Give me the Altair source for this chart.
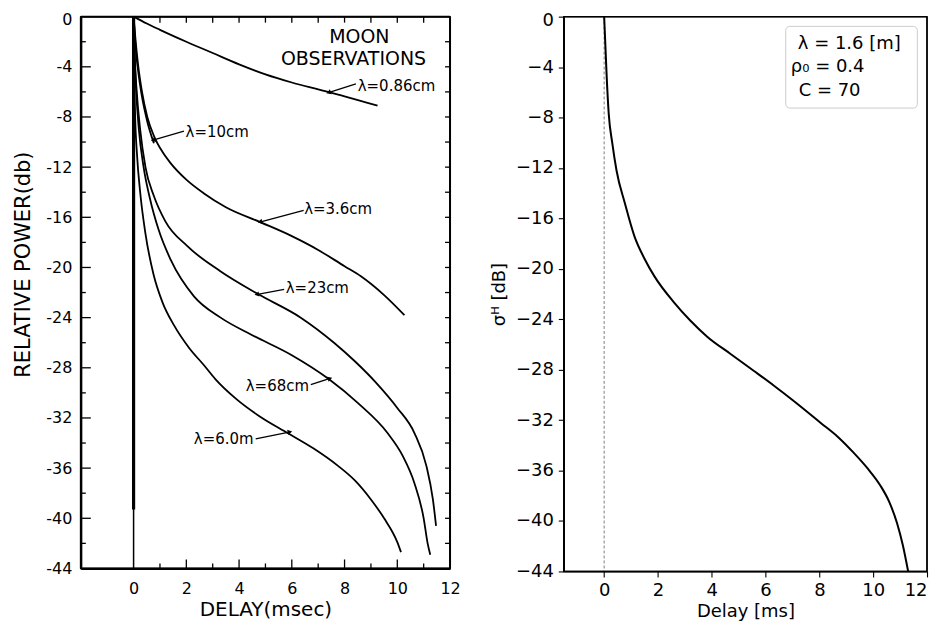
import math
import altair as alt
import pandas as pd

# ---------------- left panel data (scanned figure) ----------------
c086_x = [0, 0.5, 1, 2, 3, 4, 5, 6, 7, 8, 9.25]
c086_y = [0, -0.55, -1.05, -2.0, -2.9, -3.8, -4.6, -5.25, -5.8, -6.35, -7.1]

c10_x = [0, 0.08, 0.25, 0.5, 0.77]
c10_y = [0, -2.5, -5.5, -8.2, -10.1]

c36_x = [0, 0.08, 0.18, 0.32, 0.52, 0.77, 1.1, 1.41, 2.0, 2.67, 3.5, 4.82, 6.0, 7.0, 8.0, 8.62, 9.5, 10.27]
c36_y = [0, -2.0, -4.0, -6.0, -8.0, -9.5, -10.8, -11.7, -13.0, -14.1, -15.2, -16.4, -17.5, -18.6, -19.9, -20.7, -22.2, -23.8]

c23_x = [0, 0.04, 0.12, 0.25, 0.45, 0.77, 1.2, 2.04, 3.29, 4.7, 6.34, 7.6, 8.4, 9.2, 10.0, 10.65, 11.1, 11.35, 11.47]
c23_y = [0, -3, -6, -9, -12, -14.3, -16.3, -18.3, -20.3, -22.1, -24.0, -26.0, -27.5, -29.2, -31.2, -33.2, -35.8, -38.5, -40.6]

c68_x = [0, 0.04, 0.1, 0.2, 0.38, 0.62, 0.95, 1.41, 2.29, 3.3, 4.5, 6.0, 7.4, 8.5, 9.63, 10.2, 10.65, 11.0, 11.15, 11.25]
c68_y = [0, -3, -6, -9, -12, -14.5, -17.0, -19.4, -22.3, -24.0, -25.4, -27.0, -28.9, -30.8, -33.2, -35.0, -37.2, -40.0, -42.0, -42.9]

c600_x = [0, 0.02, 0.06, 0.13, 0.25, 0.45, 0.75, 1.1, 1.53, 2.1, 2.67, 3.1, 3.9, 4.8, 5.84, 6.8, 7.74, 8.4, 9.0, 9.5, 10.0, 10.14]
c600_y = [0, -4, -8, -11, -14, -17.3, -20.5, -22.8, -24.6, -26.4, -27.8, -28.9, -30.5, -31.9, -33.2, -34.4, -35.8, -37.0, -38.5, -40.0, -41.9, -42.7]

spike_thick_y = [0, -39.3]
spike_thin_y = [0, -44]

# annotations: label, text x, text y, align, arrow tail (x,y), arrow head (x,y)
ann_text = ["λ=0.86cm", "λ=10cm", "λ=3.6cm", "λ=23cm", "λ=68cm", "λ=6.0m"]
ann_tx = [8.5, 1.97, 6.47, 5.77, 6.65, 4.55]
ann_ty = [-5.52, -9.2, -15.3, -21.6, -29.43, -33.67]
ann_align = ["left", "left", "left", "left", "right", "right"]
arr_x0 = [8.43, 1.91, 6.45, 5.71, 6.72, 4.63]
arr_y0 = [-5.37, -9.13, -15.44, -21.74, -29.35, -33.67]
arr_x1 = [7.42, 0.77, 4.82, 4.7, 7.42, 5.9]
arr_y1 = [-6.03, -9.82, -16.36, -22.14, -28.87, -33.13]

title_lines = ["MOON", "OBSERVATIONS"]
title_x = [8.56, 8.34]
title_y = [-1.63, -3.38]

x_major = [2, 4, 6, 8, 10]
x_minor = [1, 3, 5, 7, 9, 11]
y_major = [-4, -8, -12, -16, -20, -24, -28, -32, -36, -40]
y_minor = [-2, -6, -10, -14, -18, -22, -26, -30, -34, -38, -42]

# ---------------- right panel data (model) ----------------
model_x = [0, 0.02, 0.05, 0.085, 0.17, 0.3, 0.46, 0.77, 1.13, 1.5, 1.87, 2.61, 3.2, 3.84, 4.7,
           5.57, 6.3, 7.0, 8.04, 8.7, 9.28, 9.8, 10.27, 10.6, 10.89, 11.1, 11.3]
model_y = [0, -1, -2.5, -4.3, -7.7, -10.0, -12.2, -14.8, -17.45, -19.2, -20.6, -22.7, -24.1, -25.4, -26.75,
           -28.1, -29.25, -30.4, -32.2, -33.35, -34.6, -35.85, -37.2, -38.5, -40.2, -41.9, -44.0]

legend_lines = ["λ = 1.6 [m]", "ρ₀ = 0.4", "C = 70"]
legend_tx = [7.2, 6.94, 7.23]
legend_ty = [-2.19, -4.01, -5.9]
legend_box = [6.75, 11.64, -0.77, -7.25]

# ---------------- build left panel ----------------
LW, LH = 370, 553
FONT = "DejaVu Sans"
lx = alt.Scale(domain=[-2, 12], nice=False, zero=False)
ly = alt.Scale(domain=[-44, 0], nice=False, zero=False)

rows = []
for name, xs, ys in [("0.86cm", c086_x, c086_y), ("10cm", c10_x, c10_y), ("3.6cm", c36_x, c36_y),
                     ("23cm", c23_x, c23_y), ("68cm", c68_x, c68_y), ("6.0m", c600_x, c600_y)]:
    for i, (a, b) in enumerate(zip(xs, ys)):
        rows.append({"series": name, "x": a, "y": b, "i": i})
curves = pd.DataFrame(rows)

xenc = alt.X("x:Q", scale=lx, axis=alt.Axis(values=list(range(0, 13, 2)), title="DELAY(msec)",
                                             tickSize=0, domain=True, domainColor="black", domainWidth=2,
                                             grid=False, labelFont=FONT,
                                             labelFontSize=16, labelColor="black", labelPadding=12,
                                             labelFlush=False,
                                             titleFont=FONT, titleFontSize=20, titleFontWeight="normal",
                                             titleColor="black", titlePadding=3))
yenc = alt.Y("y:Q", scale=ly, axis=alt.Axis(values=list(range(-44, 1, 4)), title="RELATIVE POWER(db)",
                                             labelExpr="datum.value == 0 ? '0' : '-' + abs(datum.value)",
                                             labelOffset=alt.condition("datum.value == 0", alt.value(3), alt.value(0)),
                                             tickSize=0, domain=True, domainColor="black", domainWidth=2,
                                             grid=False, labelFont=FONT,
                                             labelFontSize=16, labelColor="black", labelPadding=9,
                                             titleFont=FONT, titleFontSize=21, titleFontWeight="normal",
                                             titleColor="black", titleAngle=-90, titleX=-57, titleY=248,
                                             titleBaseline="middle", titleAlign="center"))

left_curves = alt.Chart(curves).mark_line(color="black", strokeWidth=1.8, interpolate="monotone").encode(
    x=xenc, y=yenc, detail="series:N", order="i:Q")

spike_df = pd.DataFrame({"x": [0] * 4, "y": spike_thin_y + spike_thick_y, "k": ["thin", "thin", "thick", "thick"]})
spike_thin = alt.Chart(spike_df[spike_df.k == "thin"]).mark_line(color="black", strokeWidth=1.5).encode(
    x=alt.X("x:Q", scale=lx), y=alt.Y("y:Q", scale=ly))
spike_thick = alt.Chart(spike_df[spike_df.k == "thick"]).mark_line(color="black", strokeWidth=3.2).encode(
    x=alt.X("x:Q", scale=lx), y=alt.Y("y:Q", scale=ly))


def xticks(vals, top, length):
    d = pd.DataFrame({"x": vals})
    if top:
        return alt.Chart(d).mark_rule(color="black", strokeWidth=1.3).encode(
            x=alt.X("x:Q", scale=lx), y=alt.value(0), y2=alt.value(length))
    return alt.Chart(d).mark_rule(color="black", strokeWidth=1.3).encode(
        x=alt.X("x:Q", scale=lx), y=alt.value(LH), y2=alt.value(LH - length))


def yticks(vals, right, length):
    d = pd.DataFrame({"y": vals})
    if right:
        return alt.Chart(d).mark_rule(color="black", strokeWidth=1.3).encode(
            y=alt.Y("y:Q", scale=ly), x=alt.value(LW), x2=alt.value(LW - length))
    return alt.Chart(d).mark_rule(color="black", strokeWidth=1.3).encode(
        y=alt.Y("y:Q", scale=ly), x=alt.value(0), x2=alt.value(length))


def frame(w, h, width, color):
    one = pd.DataFrame({"f": [0]})
    base = alt.Chart(one).mark_rule(color=color, strokeWidth=width)
    return [
        base.encode(x=alt.value(0), x2=alt.value(w), y=alt.value(0)),
        base.encode(x=alt.value(0), x2=alt.value(w), y=alt.value(h)),
        base.encode(x=alt.value(0), y=alt.value(0), y2=alt.value(h)),
        base.encode(x=alt.value(w), y=alt.value(0), y2=alt.value(h)),
    ]


tick_layers = [
    xticks(x_major, False, 9), xticks(x_minor, False, 5),
    xticks(x_major, True, 6), xticks(x_minor, True, 6),
    yticks(y_major, False, 10), yticks(y_minor, False, 5),
    yticks(y_major, True, 5), yticks(y_minor, True, 5),
]

ann_df = pd.DataFrame({"t": ann_text, "x": ann_tx, "y": ann_ty, "al": ann_align})
ann_left = alt.Chart(ann_df[ann_df.al == "left"]).mark_text(
    font=FONT, fontSize=15, color="black", align="left", baseline="middle").encode(
    x=alt.X("x:Q", scale=lx), y=alt.Y("y:Q", scale=ly), text="t:N")
ann_right = alt.Chart(ann_df[ann_df.al == "right"]).mark_text(
    font=FONT, fontSize=15, color="black", align="right", baseline="middle").encode(
    x=alt.X("x:Q", scale=lx), y=alt.Y("y:Q", scale=ly), text="t:N")

kx = LW / 14.0
ky = LH / 44.0
angles = []
for a0, b0, a1, b1 in zip(arr_x0, arr_y0, arr_x1, arr_y1):
    dx = (a1 - a0) * kx
    dy = -(b1 - b0) * ky
    ang = math.degrees(math.atan2(dx, -dy)) % 360
    angles.append(ang)
arr_df = pd.DataFrame({"x0": arr_x0, "y0": arr_y0, "x1": arr_x1, "y1": arr_y1, "ang": angles})
arr_lines = alt.Chart(arr_df).mark_rule(color="black", strokeWidth=1.3).encode(
    x=alt.X("x0:Q", scale=lx), y=alt.Y("y0:Q", scale=ly), x2="x1:Q", y2="y1:Q")
arr_heads = alt.Chart(arr_df).mark_point(shape="triangle", filled=True, color="black", size=28, opacity=1).encode(
    x=alt.X("x1:Q", scale=lx), y=alt.Y("y1:Q", scale=ly), angle=alt.Angle("ang:Q", scale=None))

moon_df = pd.DataFrame({"t": title_lines, "x": title_x, "y": title_y})
moon = alt.Chart(moon_df).mark_text(font=FONT, fontSize=19, color="black", align="center", baseline="middle").encode(
    x=alt.X("x:Q", scale=lx), y=alt.Y("y:Q", scale=ly), text="t:N")

left = alt.layer(left_curves, spike_thin, spike_thick, *tick_layers, ann_left, ann_right,
                 arr_lines, arr_heads, moon, *frame(LW, LH, 2, "black")).properties(width=LW, height=LH)

# ---------------- build right panel ----------------
RW, RH = 364, 556
rx = alt.Scale(domain=[-1.5, 12], nice=False, zero=False)
ry = alt.Scale(domain=[-44, 0], nice=False, zero=False)

model_df = pd.DataFrame({"x": model_x, "y": model_y, "i": range(len(model_x))})
rxenc = alt.X("x:Q", scale=rx, axis=alt.Axis(values=list(range(0, 13, 2)), title="Delay [ms]",
                                              tickSize=5.5, tickColor="black", tickWidth=1.1,
                                              domain=True, domainColor="black", domainWidth=1.3,
                                              grid=False, labelFont=FONT, labelFontSize=18, labelColor="black",
                                              labelPadding=5, labelFlush=True, titleFont=FONT, titleFontSize=18,
                                              titleFontWeight="normal", titleColor="black", titlePadding=3))
ryenc = alt.Y("y:Q", scale=ry, axis=alt.Axis(values=list(range(-44, 1, 4)), title="σᴴ [dB]",
                                              labelOffset=alt.condition("datum.value == 0", alt.value(4), alt.value(0)),
                                              tickSize=5.5, tickColor="black", tickWidth=1.1,
                                              domain=True, domainColor="black", domainWidth=1.3,
                                              grid=False, labelFont=FONT, labelFontSize=18, labelColor="black",
                                              labelPadding=5, titleFont=FONT, titleFontSize=18,
                                              titleFontWeight="normal", titleColor="black", titlePadding=7))

model_line = alt.Chart(model_df).mark_line(color="black", strokeWidth=2, interpolate="monotone").encode(
    x=rxenc, y=ryenc, order="i:Q")

zero_df = pd.DataFrame({"x": [0]})
zero_line = alt.Chart(zero_df).mark_rule(color="#808080", strokeWidth=1, strokeDash=[3, 2]).encode(
    x=alt.X("x:Q", scale=rx))

box_df = pd.DataFrame({"x": [legend_box[0]], "x2": [legend_box[1]], "y": [legend_box[2]], "y2": [legend_box[3]]})
box = alt.Chart(box_df).mark_rect(fill="white", fillOpacity=0.8, stroke="#cccccc", strokeWidth=1,
                                  cornerRadius=4).encode(
    x=alt.X("x:Q", scale=rx), x2="x2:Q", y=alt.Y("y:Q", scale=ry), y2="y2:Q")

leg_df = pd.DataFrame({"t": legend_lines, "x": legend_tx, "y": legend_ty})
leg_text = alt.Chart(leg_df).mark_text(font=FONT, fontSize=18, color="black", align="left", baseline="middle").encode(
    x=alt.X("x:Q", scale=rx), y=alt.Y("y:Q", scale=ry), text="t:N")

right = alt.layer(zero_line, model_line, box, leg_text, *frame(RW, RH, 1.3, "black")).properties(width=RW, height=RH)

chart = alt.hconcat(left, right, spacing=28).properties(
    padding={"left": 4, "top": 0, "right": 0, "bottom": 0},
    background="white",
).configure_view(stroke="black", strokeWidth=1.5)

chart.save("out.html", embed_options={"renderer": "svg", "actions": False})
